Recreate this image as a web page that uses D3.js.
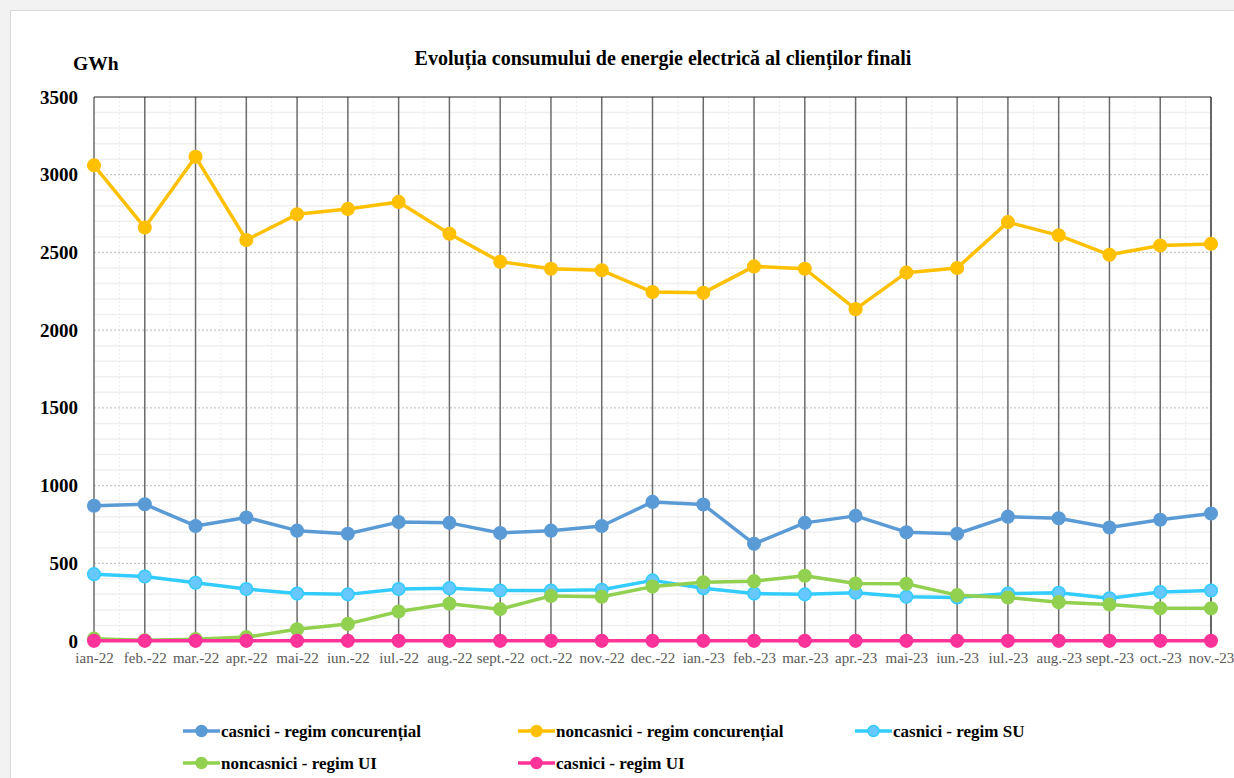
<!DOCTYPE html>
<html>
<head>
<meta charset="utf-8">
<script src="https://cdn.jsdelivr.net/npm/d3@7"></script>
<style>
  body { margin: 0; background: #f2f2f2; }
  #chart { position: absolute; left: 0; top: 0; }
</style>
</head>
<body>
<div id="chart"></div>
<script>
// months on the x axis
const months = ["ian-22", "feb.-22", "mar.-22", "apr.-22", "mai-22", "iun.-22", "iul.-22", "aug.-22",
  "sept.-22", "oct.-22", "nov.-22", "dec.-22", "ian.-23", "feb.-23", "mar.-23", "apr.-23", "mai-23",
  "iun.-23", "iul.-23", "aug.-23", "sept.-23", "oct.-23", "nov.-23"];

// GWh per series
const casniciConc = [870, 880, 740, 795, 710, 690, 765, 760, 695, 710, 740, 895, 878, 625, 760, 805, 700, 690, 800, 790, 730, 780, 820];
const noncasniciConc = [3060, 2660, 3115, 2580, 2745, 2780, 2825, 2620, 2440, 2395, 2385, 2245, 2240, 2410, 2395, 2135, 2370, 2400, 2695, 2610, 2485, 2545, 2555];
const casniciSU = [430, 415, 375, 335, 305, 300, 335, 340, 325, 325, 330, 390, 340, 305, 300, 310, 285, 280, 305, 310, 275, 315, 325];
const noncasniciUI = [15, 5, 12, 25, 75, 110, 190, 240, 205, 290, 285, 350, 378, 385, 420, 370, 368, 295, 280, 250, 235, 210, 210];
const casniciUI = [1, 1, 1, 1, 1, 1, 1, 1, 1, 1, 1, 1, 1, 1, 1, 1, 1, 1, 1, 1, 1, 1, 1];

const yTicks = [0, 500, 1000, 1500, 2000, 2500, 3000, 3500];

const series = [
  {name: "casnici - regim concurențial", values: casniciConc, color: "#5b9bd5", fill: "#5b9bd5"},
  {name: "noncasnici - regim concurențial", values: noncasniciConc, color: "#ffc000", fill: "#ffc000"},
  {name: "casnici - regim SU", values: casniciSU, color: "#33ccff", fill: "#66c8ff"},
  {name: "noncasnici - regim UI", values: noncasniciUI, color: "#92d050", fill: "#92d050"},
  {name: "casnici - regim UI", values: casniciUI, color: "#ff3399", fill: "#ff3399"}
];

const width = 1234, height = 778;
const plotLeft = 94, plotRight = 1211, plotTop = 97, plotBottom = 641;
const serif = "Liberation Serif, Times New Roman, serif";

let svg = d3.select("#chart")
  .append("svg")
  .attr("width", width)
  .attr("height", height)
  .attr("font-family", serif);

// card
svg.append("rect")
  .attr("x", 10.5).attr("y", 10.5)
  .attr("width", width).attr("height", height)
  .attr("fill", "#fff")
  .attr("stroke", "#d9d9d9");

let x = d3.scalePoint().domain(months).range([plotLeft, plotRight]);
let y = d3.scaleLinear().domain([0, 3500]).range([plotBottom, plotTop]);
let step = x.step();

let grid = svg.append("g");

// minor horizontal lines every 100
grid.selectAll(".hminor")
  .data(d3.range(100, 3500, 100).filter(d => d % 500 !== 0))
  .enter().append("line")
  .attr("x1", plotLeft).attr("x2", plotRight)
  .attr("y1", d => y(d)).attr("y2", d => y(d))
  .attr("stroke", "#efefef").attr("stroke-width", 1.5);

// minor vertical dotted between months
grid.selectAll(".vminor")
  .data(months.slice(0, -1))
  .enter().append("line")
  .attr("x1", d => x(d) + step / 2).attr("x2", d => x(d) + step / 2)
  .attr("y1", plotTop).attr("y2", plotBottom)
  .attr("stroke", "#ebebeb").attr("stroke-width", 1)
  .attr("stroke-dasharray", "2,2");

// major horizontal dotted
grid.selectAll(".hmajor")
  .data(yTicks.slice(1, -1))
  .enter().append("line")
  .attr("x1", plotLeft).attr("x2", plotRight)
  .attr("y1", d => y(d)).attr("y2", d => y(d))
  .attr("stroke", "#c8c8c8").attr("stroke-width", 1.2)
  .attr("stroke-dasharray", "2,2");

// month lines
grid.selectAll(".vmajor")
  .data(months)
  .enter().append("line")
  .attr("x1", d => x(d)).attr("x2", d => x(d))
  .attr("y1", plotTop).attr("y2", plotBottom)
  .attr("stroke", (d, i) => (i === months.length - 1 ? "#333" : "#6b6b6b"))
  .attr("stroke-width", 1.5);

// top border
grid.append("line")
  .attr("x1", plotLeft).attr("x2", plotRight)
  .attr("y1", plotTop).attr("y2", plotTop)
  .attr("stroke", "#222").attr("stroke-width", 1.2);

// y axis labels
let yAxis = svg.append("g")
  .attr("transform", `translate(${plotLeft - 16},0)`)
  .call(d3.axisLeft(y).tickValues(yTicks).tickFormat(d3.format("d")).tickSize(0).tickPadding(0))
  .attr("font-family", serif)
  .attr("font-size", 19)
  .attr("font-weight", "bold");
yAxis.select(".domain").attr("display", "none");
yAxis.selectAll("text").attr("fill", "#000");

// x axis labels
let xAxis = svg.append("g")
  .attr("transform", `translate(0,${plotBottom + 11})`)
  .call(d3.axisBottom(x).tickSize(0).tickPadding(0))
  .attr("font-family", serif)
  .attr("font-size", 15);
xAxis.select(".domain").attr("display", "none");
xAxis.selectAll("text").attr("fill", "#595959");

// lines and markers
let line = d3.line()
  .x((d, i) => x(months[i]))
  .y(d => y(d));

series.forEach(s => {
  let g = svg.append("g");
  g.append("path")
    .datum(s.values)
    .attr("d", line)
    .attr("fill", "none")
    .attr("stroke", s.color)
    .attr("stroke-width", 3.5)
    .attr("stroke-linejoin", "round");
  g.selectAll("circle")
    .data(s.values)
    .enter().append("circle")
    .attr("cx", (d, i) => x(months[i]))
    .attr("cy", d => y(d))
    .attr("r", 6.3)
    .attr("fill", s.fill)
    .attr("stroke", s.color)
    .attr("stroke-width", 1.5);
});

// title and unit
svg.append("text")
  .attr("x", 663).attr("y", 65)
  .attr("text-anchor", "middle")
  .attr("font-size", 20).attr("font-weight", "bold")
  .text("Evoluția consumului de energie electrică al clienților finali");

svg.append("text")
  .attr("x", 73).attr("y", 70)
  .attr("font-size", 19.5).attr("font-weight", "bold")
  .text("GWh");

// legend
const legendPos = [[183, 731], [518, 731], [855, 731], [183, 763], [518, 763]];
let legend = svg.selectAll(".legend")
  .data(series)
  .enter().append("g")
  .attr("class", "legend")
  .attr("transform", (d, i) => `translate(${legendPos[i][0]},${legendPos[i][1]})`);
legend.append("line")
  .attr("x1", 0).attr("x2", 37)
  .attr("stroke", d => d.color).attr("stroke-width", 3.5);
legend.append("circle")
  .attr("cx", 18.5).attr("r", 5.5)
  .attr("fill", d => d.fill).attr("stroke", d => d.color).attr("stroke-width", 1.5);
legend.append("text")
  .attr("x", 38).attr("y", 6)
  .attr("font-size", 17).attr("font-weight", "bold")
  .text(d => d.name);
</script>
</body>
</html>
